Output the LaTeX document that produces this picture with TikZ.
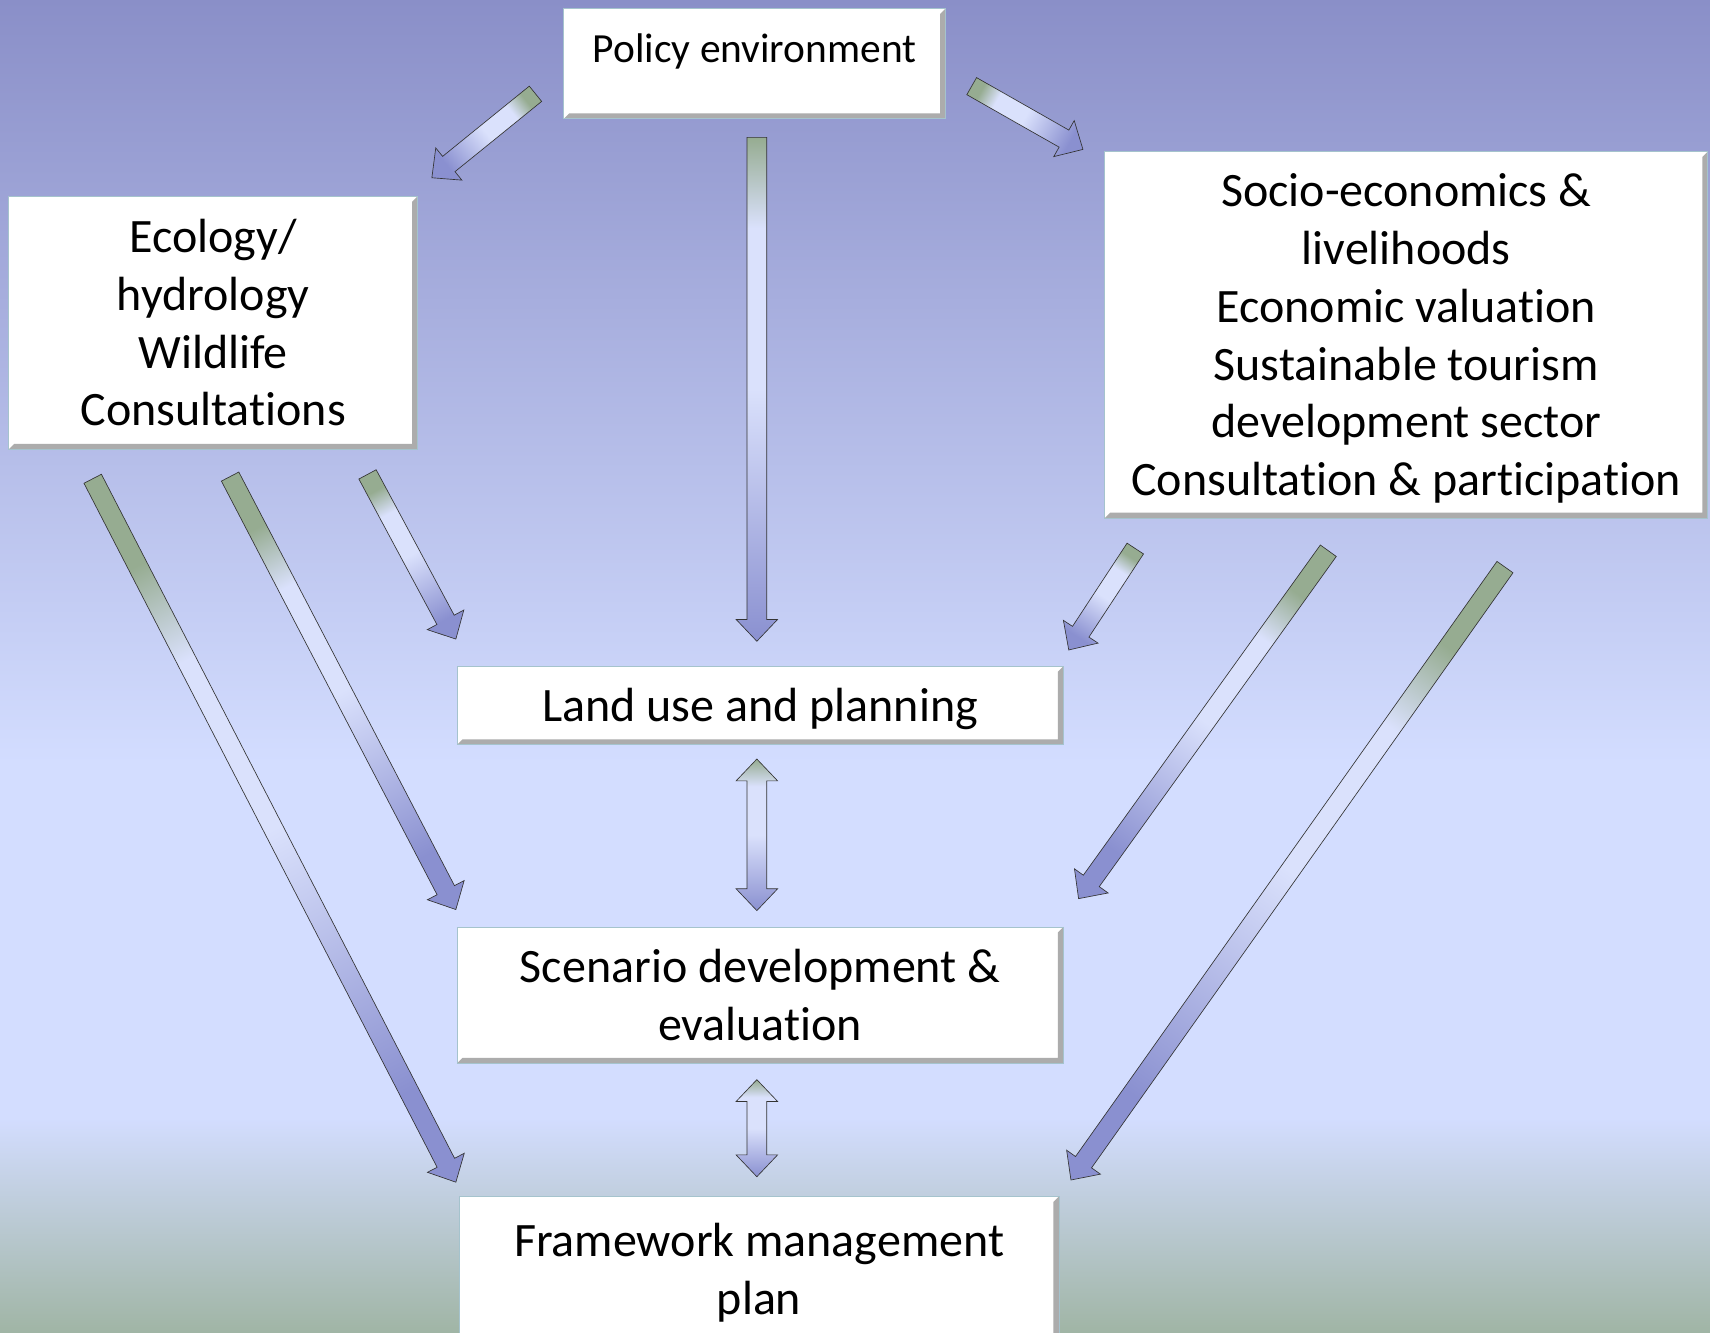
\documentclass[tikz,border=0pt]{standalone}
\usepackage{fontspec}
\setmainfont{Carlito}[Ligatures=NoCommon]
\usetikzlibrary{calc}

\definecolor{bgtop}{RGB}{138,143,200}
\definecolor{bglight}{RGB}{211,221,255}
\definecolor{bgbot}{RGB}{160,181,165}
\definecolor{arrtail}{RGB}{150,172,145}
\definecolor{arrmid}{RGB}{218,225,252}
\definecolor{arrhead}{RGB}{138,144,208}
\definecolor{boxedge}{RGB}{165,195,205}

\pgfdeclareverticalshading{flowshade}{100bp}{color(0bp)=(arrtail); color(25bp)=(arrtail);
  color(34bp)=(arrmid); color(50bp)=(arrmid); color(75bp)=(arrhead); color(100bp)=(arrhead)}

\tikzstyle{box}  = [fill=white, draw=boxedge, line width=0.8pt, inner sep=0pt, align=center,
                    font=\fontsize{44}{53}\selectfont,
                    path picture={
                      \fill[gray!65] (path picture bounding box.north east)
                        -- (path picture bounding box.south east)
                        -- (path picture bounding box.south west)
                        -- ([shift={(5pt,5pt)}]path picture bounding box.south west)
                        -- ([shift={(-5pt,5pt)}]path picture bounding box.south east)
                        -- ([shift={(-5pt,-5pt)}]path picture bounding box.north east) -- cycle;}]
\tikzstyle{flow} = [shading=flowshade, draw=black!80, line width=0.6pt, line join=miter]

% struts: fix the first and the last line of a box
\def\linetop{\rule{0pt}{45pt}}
\def\linebot{\rule[-15pt]{0pt}{0pt}}

\def\arrsw{9pt}
\def\arrhw{19pt}
\def\arrhl{20pt}
% block arrow, tail -> head
\def\flowarrow#1#2{
  \path (#1) coordinate (ft) (#2) coordinate (fh);
  \pgfpointdiff{\pgfpointanchor{ft}{center}}{\pgfpointanchor{fh}{center}}
  \pgfgetlastxy\arrdx\arrdy
  \pgfmathsetmacro\arrang{atan2(\arrdy,\arrdx)}
  \coordinate (fb) at ($(fh)!\arrhl!(ft)$);
  \shade[flow, shading angle=\arrang-90]
    ($(ft)!\arrsw!90:(fh)$) -- ($(fb)!\arrsw!-90:(ft)$) -- ($(fb)!\arrhw!-90:(ft)$) -- (fh)
    -- ($(fb)!\arrhw!90:(ft)$) -- ($(fb)!\arrsw!90:(ft)$) -- ($(ft)!\arrsw!-90:(fh)$) -- cycle;
}
% block arrow with two heads
\def\flowdarrow#1#2{
  \path (#1) coordinate (ft) (#2) coordinate (fh);
  \pgfpointdiff{\pgfpointanchor{ft}{center}}{\pgfpointanchor{fh}{center}}
  \pgfgetlastxy\arrdx\arrdy
  \pgfmathsetmacro\arrang{atan2(\arrdy,\arrdx)}
  \coordinate (fa) at ($(ft)!\arrhl!(fh)$);
  \coordinate (fb) at ($(fh)!\arrhl!(ft)$);
  \shade[flow, shading angle=\arrang-90]
    (ft) -- ($(fa)!\arrhw!90:(fh)$) -- ($(fa)!\arrsw!90:(fh)$)
    -- ($(fb)!\arrsw!-90:(ft)$) -- ($(fb)!\arrhw!-90:(ft)$) -- (fh)
    -- ($(fb)!\arrhw!90:(ft)$) -- ($(fb)!\arrsw!90:(ft)$)
    -- ($(fa)!\arrsw!-90:(fh)$) -- ($(fa)!\arrhw!-90:(fh)$) -- cycle;
}

\begin{document}
\begin{tikzpicture}[x=1pt, y=-1pt]
  \useasboundingbox (0,0) rectangle (1568,1222);
  % background
  \shade[top color=bgtop, bottom color=bglight] (0,0) rectangle (1568,700);
  \fill[bglight] (0,700) rectangle (1568,1025);
  \shade[top color=bglight, bottom color=bgbot] (0,1025) rectangle (1568,1222);

  \node[box, minimum width=350pt, minimum height=101pt, font=\fontsize{38}{46}\selectfont,
        text height=25pt, text depth=28pt] (policy) at (692,58.5) {Policy environment};
  \node[box, minimum width=375pt, minimum height=232pt] (eco) at (195.5,296)
    {\linetop Ecology/\\hydrology\\Wildlife\\Consultations\linebot};
  \node[box, minimum width=553pt, minimum height=336pt] (socio) at (1289.5,307)
    {\linetop Socio-economics \&\\livelihoods\\Economic valuation\\Sustainable tourism\\development sector\\Consultation \& participation\linebot};
  \node[box, minimum width=556pt, minimum height=72pt] (landuse) at (697,647) {\linetop Land use and planning\linebot};
  \node[box, minimum width=556pt, minimum height=125pt] (scen) at (697,912.5) {\linetop Scenario development \&\\evaluation\linebot};
  \node[box, minimum width=550pt, minimum height=133pt] (frame) at (696,1163.5) {\linetop Framework management\\plan\linebot};

  % arrow ends
  \coordinate (pe-eco-t)  at (491,86);   \coordinate (pe-eco-h)  at (396,163);
  \coordinate (pe-soc-t)  at (891,79);   \coordinate (pe-soc-h)  at (993,137);
  \coordinate (pe-land-t) at (694,126);  \coordinate (pe-land-h) at (694,588);
  \coordinate (eco-land-t) at (337,435); \coordinate (eco-land-h) at (418,586);
  \coordinate (eco-scen-t) at (211,437); \coordinate (eco-scen-h) at (418,834);
  \coordinate (eco-fr-t)   at (85,439);  \coordinate (eco-fr-h)   at (418,1084);
  \coordinate (soc-land-t) at (1041,503); \coordinate (soc-land-h) at (980,596);
  \coordinate (soc-scen-t) at (1218,505); \coordinate (soc-scen-h) at (989,824);
  \coordinate (soc-fr-t)   at (1380,520); \coordinate (soc-fr-h)   at (982,1082);
  \coordinate (land-scen-t) at (694,696); \coordinate (land-scen-h) at (694,835);
  \coordinate (scen-fr-t)   at (694,990); \coordinate (scen-fr-h)   at (694,1079);

  \flowarrow{pe-eco-t}{pe-eco-h}
  \flowarrow{pe-soc-t}{pe-soc-h}
  \flowarrow{pe-land-t}{pe-land-h}
  \flowarrow{eco-land-t}{eco-land-h}
  \flowarrow{eco-scen-t}{eco-scen-h}
  \flowarrow{eco-fr-t}{eco-fr-h}
  \flowarrow{soc-land-t}{soc-land-h}
  \flowarrow{soc-scen-t}{soc-scen-h}
  \flowarrow{soc-fr-t}{soc-fr-h}
  \flowdarrow{land-scen-t}{land-scen-h}
  \flowdarrow{scen-fr-t}{scen-fr-h}
\end{tikzpicture}
\end{document}
